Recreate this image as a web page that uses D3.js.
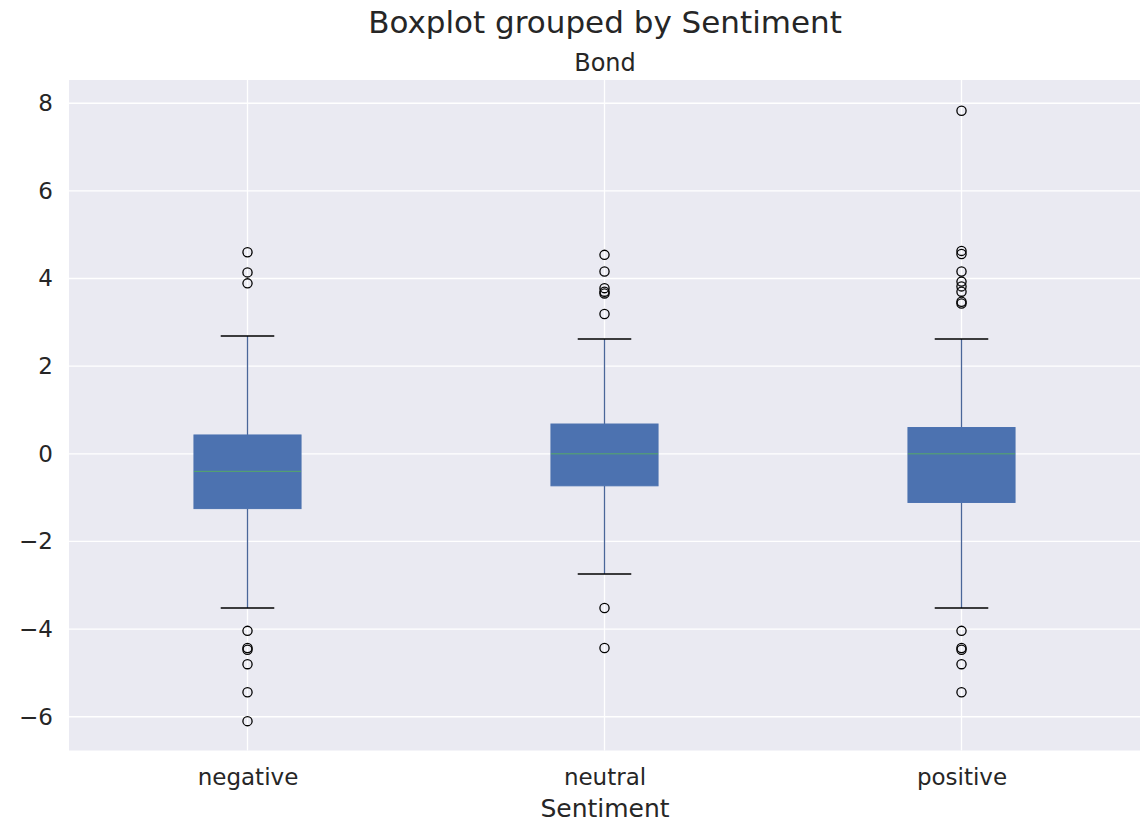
<!DOCTYPE html>
<html>
<head>
<meta charset="utf-8">
<script src="https://cdn.jsdelivr.net/npm/d3@7"></script>
<style>
  html, body { margin: 0; padding: 0; background: #ffffff; }
  svg { display: block; font-family: "DejaVu Sans", sans-serif; }
</style>
</head>
<body>
<svg id="chart" width="1144" height="823"></svg>
<script>
// Sentiment groups and their box statistics
const categories = ["negative", "neutral", "positive"];
const whiskerLow = [-3.52, -2.74, -3.52];
const q1 = [-1.25, -0.73, -1.11];
const medians = [-0.40, 0.00, 0.00];
const q3 = [0.43, 0.68, 0.60];
const whiskerHigh = [2.69, 2.62, 2.62];

// Points beyond the whiskers, one list per group
const outliersNegative = [4.60, 4.14, 3.89, -4.04, -4.43, -4.47, -4.80, -5.44, -6.10];
const outliersNeutral = [4.54, 4.16, 3.78, 3.70, 3.66, 3.19, -3.52, -4.43];
const outliersPositive = [7.83, 4.63, 4.56, 4.16, 3.93, 3.82, 3.70, 3.47, 3.43, -4.04, -4.43, -4.47, -4.80, -5.44];
const outliers = [outliersNegative, outliersNeutral, outliersPositive];

const yTicks = [-6, -4, -2, 0, 2, 4, 6, 8];

const svg = d3.select("#chart");
const margin = { left: 69, right: 1140, top: 80, bottom: 750.5 };
const textColor = "#262626";

const x = d3.scaleLinear().domain([0.5, 3.5]).range([margin.left, margin.right]);
const y = d3.scaleLinear().domain([-6.77, 8.53]).range([margin.bottom, margin.top]);

// Plot background
svg.append("rect")
  .attr("x", margin.left).attr("y", margin.top)
  .attr("width", margin.right - margin.left)
  .attr("height", margin.bottom - margin.top)
  .attr("fill", "#EAEAF2");

// Grid lines
svg.append("g").selectAll("line").data(yTicks).join("line")
  .attr("x1", margin.left).attr("x2", margin.right)
  .attr("y1", d => y(d)).attr("y2", d => y(d))
  .attr("stroke", "#ffffff").attr("stroke-width", 1.3);
svg.append("g").selectAll("line").data(categories).join("line")
  .attr("x1", (d, i) => x(i + 1)).attr("x2", (d, i) => x(i + 1))
  .attr("y1", margin.top).attr("y2", margin.bottom)
  .attr("stroke", "#ffffff").attr("stroke-width", 1.3);

// Y axis tick labels
const yAxis = d3.axisLeft(y).tickValues(yTicks).tickSize(0).tickPadding(16)
  .tickFormat(d => d < 0 ? "\u2212" + Math.abs(d) : String(d));
const yg = svg.append("g").attr("transform", `translate(${margin.left},0)`).call(yAxis);
yg.select(".domain").remove();
yg.selectAll("text").attr("font-size", 23).attr("fill", textColor)
  .attr("font-family", "DejaVu Sans");

// X axis tick labels
const xAxis = d3.axisBottom(x).tickValues([1, 2, 3]).tickSize(0).tickPadding(18)
  .tickFormat(d => categories[d - 1]);
const xg = svg.append("g").attr("transform", `translate(0,${margin.bottom})`).call(xAxis);
xg.select(".domain").remove();
xg.selectAll("text").attr("font-size", 23).attr("fill", textColor)
  .attr("font-family", "DejaVu Sans");

// Boxes
const boxW = 0.3;
const g = svg.append("g");
categories.forEach((c, i) => {
  const cx = x(i + 1);
  const half = (x(1 + boxW / 2) - x(1));
  // whiskers
  g.append("line").attr("x1", cx).attr("x2", cx)
    .attr("y1", y(q3[i])).attr("y2", y(whiskerHigh[i]))
    .attr("stroke", "#4a6699").attr("stroke-width", 1.3);
  g.append("line").attr("x1", cx).attr("x2", cx)
    .attr("y1", y(q1[i])).attr("y2", y(whiskerLow[i]))
    .attr("stroke", "#4a6699").attr("stroke-width", 1.3);
  // caps
  [whiskerHigh[i], whiskerLow[i]].forEach(v => {
    g.append("line").attr("x1", cx - half / 2).attr("x2", cx + half / 2)
      .attr("y1", y(v)).attr("y2", y(v))
      .attr("stroke", "#000000").attr("stroke-width", 1.5);
  });
  // box
  g.append("rect")
    .attr("x", cx - half).attr("width", 2 * half)
    .attr("y", y(q3[i])).attr("height", y(q1[i]) - y(q3[i]))
    .attr("fill", "#4C72B0").attr("stroke", "#4C72B0").attr("stroke-width", 1);
  // median
  g.append("line").attr("x1", cx - half).attr("x2", cx + half)
    .attr("y1", y(medians[i])).attr("y2", y(medians[i]))
    .attr("stroke", "#55A868").attr("stroke-width", 1);
  // outliers
  g.append("g").selectAll("circle").data(outliers[i]).join("circle")
    .attr("cx", cx).attr("cy", d => y(d)).attr("r", 4.6)
    .attr("fill", "none").attr("stroke", "#000000").attr("stroke-width", 1.3);
});

// Titles
svg.append("text").attr("x", 605).attr("y", 33).attr("text-anchor", "middle")
  .attr("font-size", 31).attr("fill", textColor).text("Boxplot grouped by Sentiment");
svg.append("text").attr("x", 605).attr("y", 71).attr("text-anchor", "middle")
  .attr("font-size", 24).attr("fill", textColor).text("Bond");
svg.append("text").attr("x", 605).attr("y", 817).attr("text-anchor", "middle")
  .attr("font-size", 25).attr("fill", textColor).text("Sentiment");
</script>
</body>
</html>
